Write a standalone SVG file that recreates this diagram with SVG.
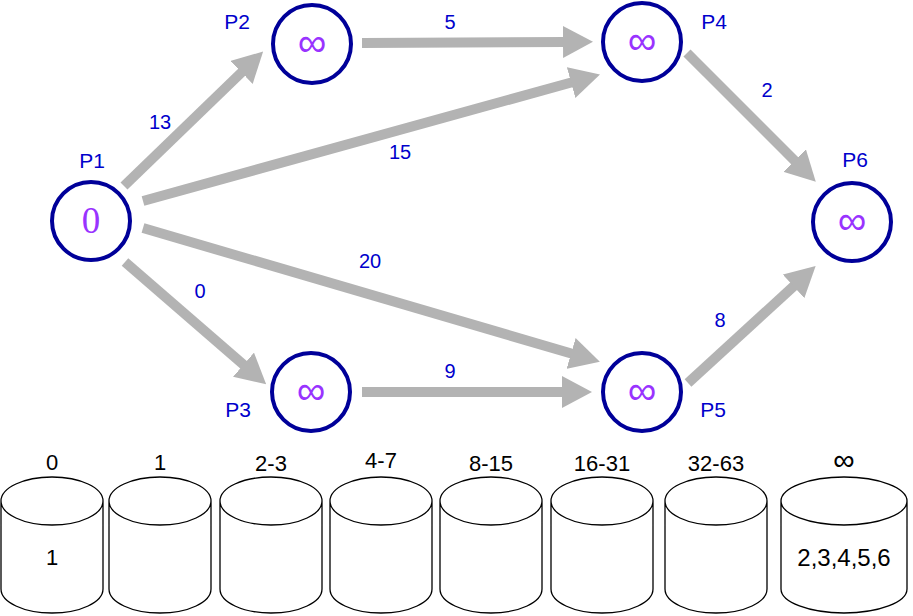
<svg xmlns="http://www.w3.org/2000/svg" width="913" height="616" viewBox="0 0 913 616">
<style>
.node circle{fill:#fff;stroke:#000099;stroke-width:4}
.inf{font-family:"Liberation Sans",Arial,sans-serif;font-size:40px;fill:#9933ff;text-anchor:middle}
.zero{font-family:"Liberation Serif","Times New Roman",serif;font-size:37px;fill:#9933ff;text-anchor:middle}
.plabel{font-family:"Liberation Sans",Arial,sans-serif;font-size:21px;fill:#0000cc;text-anchor:middle}
.elabel{font-family:"Liberation Sans",Arial,sans-serif;font-size:20px;fill:#0000cc;text-anchor:middle}
.edge{stroke:#b3b3b3;stroke-width:10;fill:none;marker-end:url(#ah)}
.cyl path{fill:#fff;stroke:#000;stroke-width:1.3}
.blabel{font-family:"Liberation Sans",Arial,sans-serif;font-size:22px;fill:#000;text-anchor:middle}
</style>
<defs>
<marker id="ah" markerUnits="userSpaceOnUse" markerWidth="30" markerHeight="32" refX="2" refY="16" orient="auto">
<path d="M0,0 L30,16 L0,32 z" fill="#b3b3b3"/>
</marker>
</defs>
<rect width="913" height="616" fill="#fff"/>
<g id="connectors">
<line class="edge" x1="124" y1="186" x2="243" y2="71"/>
<line class="edge" x1="362" y1="43" x2="565" y2="42"/>
<line class="edge" x1="143" y1="201" x2="573" y2="82"/>
<line class="edge" x1="143" y1="228" x2="573" y2="354"/>
<line class="edge" x1="125" y1="262" x2="245" y2="366"/>
<line class="edge" x1="362" y1="392" x2="564" y2="392"/>
<line class="edge" x1="687" y1="53" x2="796" y2="162"/>
<line class="edge" x1="688" y1="383" x2="795" y2="285"/>
<text class="elabel" x="160" y="129">13</text>
<text class="elabel" x="450" y="29">5</text>
<text class="elabel" x="400" y="159">15</text>
<text class="elabel" x="767" y="97">2</text>
<text class="elabel" x="200" y="298">0</text>
<text class="elabel" x="370" y="268">20</text>
<text class="elabel" x="450" y="378">9</text>
<text class="elabel" x="720" y="327">8</text>
</g>
<g id="P1" class="node"><circle cx="91" cy="221" r="39"/><text class="zero" x="91" y="233">0</text><text class="plabel" x="92" y="168">P1</text></g>
<g id="P2" class="node"><circle cx="312" cy="44" r="39"/><text class="inf" x="312" y="56">∞</text><text class="plabel" x="237" y="29">P2</text></g>
<g id="P4" class="node"><circle cx="642" cy="42" r="39"/><text class="inf" x="642" y="54">∞</text><text class="plabel" x="714" y="29">P4</text></g>
<g id="P3" class="node"><circle cx="311" cy="392" r="39"/><text class="inf" x="311" y="404">∞</text><text class="plabel" x="238" y="417">P3</text></g>
<g id="P5" class="node"><circle cx="642" cy="392" r="39"/><text class="inf" x="642" y="404">∞</text><text class="plabel" x="713" y="417">P5</text></g>
<g id="P6" class="node"><circle cx="852" cy="222" r="39"/><text class="inf" x="852" y="234">∞</text><text class="plabel" x="855" y="167">P6</text></g>
<g id="buckets">
<g id="b0" class="cyl"><path d="M1,501 A51,24 0 0 1 103,501 A51,24 0 0 1 1,501 M1,501 V589 A51,24 0 0 0 103,589 V501"/><text class="blabel" x="52" y="470">0</text><text class="blabel" x="52" y="565">1</text></g>
<g id="b1" class="cyl"><path d="M109,501 A51,24 0 0 1 211,501 A51,24 0 0 1 109,501 M109,501 V589 A51,24 0 0 0 211,589 V501"/><text class="blabel" x="160" y="470">1</text></g>
<g id="b2" class="cyl"><path d="M220,501 A51,24 0 0 1 322,501 A51,24 0 0 1 220,501 M220,501 V589 A51,24 0 0 0 322,589 V501"/><text class="blabel" x="271" y="471">2-3</text></g>
<g id="b3" class="cyl"><path d="M330,501 A51,24 0 0 1 432,501 A51,24 0 0 1 330,501 M330,501 V589 A51,24 0 0 0 432,589 V501"/><text class="blabel" x="381" y="468">4-7</text></g>
<g id="b4" class="cyl"><path d="M440,501 A51,24 0 0 1 542,501 A51,24 0 0 1 440,501 M440,501 V589 A51,24 0 0 0 542,589 V501"/><text class="blabel" x="491" y="471">8-15</text></g>
<g id="b5" class="cyl"><path d="M551,501 A51,24 0 0 1 653,501 A51,24 0 0 1 551,501 M551,501 V589 A51,24 0 0 0 653,589 V501"/><text class="blabel" x="602" y="471">16-31</text></g>
<g id="b6" class="cyl"><path d="M665,501 A51,24 0 0 1 767,501 A51,24 0 0 1 665,501 M665,501 V589 A51,24 0 0 0 767,589 V501"/><text class="blabel" x="716" y="471">32-63</text></g>
<g id="b7" class="cyl"><path d="M781,501 A63,24 0 0 1 907,501 A63,24 0 0 1 781,501 M781,501 V589 A63,24 0 0 0 907,589 V501"/><text class="blabel" x="844" y="470" style="font-size:30px">∞</text><text class="blabel" x="844" y="566" style="font-size:24px">2,3,4,5,6</text></g>
</g>
</svg>
